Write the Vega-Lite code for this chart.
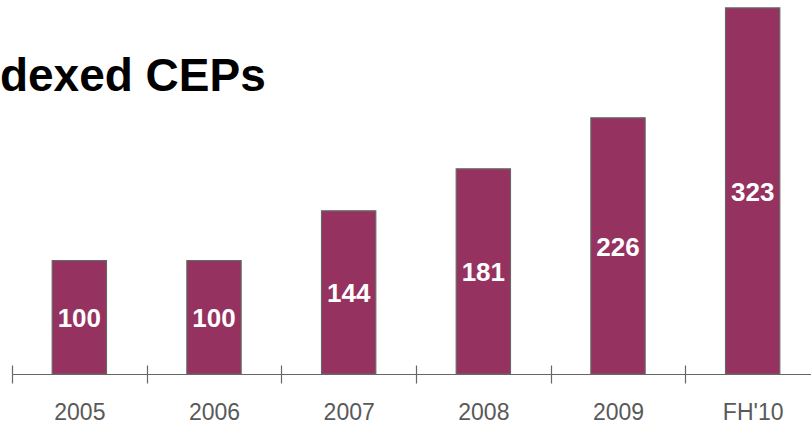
{
  "$schema": "https://vega.github.io/schema/vega-lite/v6.json",
  "width": 799,
  "height": 374,
  "autosize": {"type": "none"},
  "padding": {"left": 12, "top": 0, "right": 0, "bottom": 52},
  "background": "white",
  "title": {
    "text": "Indexed CEPs",
    "orient": "top",
    "anchor": "start",
    "frame": "group",
    "baseline": "alphabetic",
    "offset": -137,
    "dx": -53,
    "font": "Liberation Sans",
    "fontSize": 46,
    "fontWeight": "bold",
    "color": "#000000"
  },
  "data": {
    "values": [
      {"period": "2005", "value": 100},
      {"period": "2006", "value": 100},
      {"period": "2007", "value": 144},
      {"period": "2008", "value": 181},
      {"period": "2009", "value": 226},
      {"period": "FH'10", "value": 323}
    ]
  },
  "resolve": {"scale": {"y": "independent"}, "axis": {"x": "independent"}},
  "layer": [
    {
      "mark": {"type": "bar", "color": "#963260", "stroke": "#666666", "strokeWidth": 1.2, "width": {"band": 0.403}},
      "encoding": {
        "x": {
          "field": "period",
          "type": "nominal",
          "sort": null,
          "scale": {"range": [0, 808], "paddingInner": 0, "paddingOuter": 0},
          "axis": {
            "title": null,
            "orient": "bottom",
            "labelAngle": 0,
            "labelFont": "Liberation Sans",
            "labelFontSize": 23,
            "labelColor": "#595959",
            "labelPadding": 18,
            "tickBand": "extent",
            "tickSize": 9,
            "tickColor": "#666666",
            "tickWidth": 1.2,
            "domainColor": "#666666",
            "domainWidth": 1.2,
            "grid": false
          }
        },
        "y": {
          "field": "value",
          "type": "quantitative",
          "scale": {"domain": [0, 330], "nice": false},
          "axis": null
        }
      }
    },
    {
      "mark": {"type": "text", "color": "white", "font": "Liberation Sans", "fontSize": 26, "fontWeight": "bold", "baseline": "middle", "dy": 2},
      "encoding": {
        "x": {
          "field": "period",
          "type": "nominal",
          "sort": null,
          "axis": {
            "orient": "top",
            "offset": -374,
            "title": null,
            "labels": false,
            "domain": false,
            "tickBand": "extent",
            "tickSize": 9,
            "tickColor": "#666666",
            "tickWidth": 1.2,
            "grid": false
          }
        },
        "y": {
          "field": "value",
          "type": "quantitative",
          "scale": {"domain": [0, 660], "nice": false},
          "axis": null
        },
        "text": {"field": "value", "type": "quantitative"}
      }
    }
  ],
  "config": {"view": {"stroke": null}}
}
